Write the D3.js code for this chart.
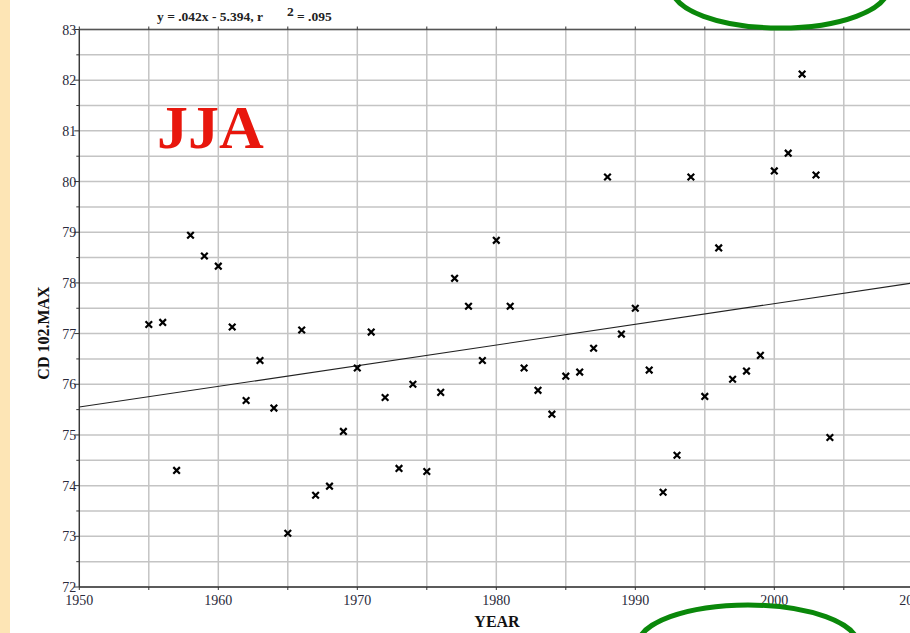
<!DOCTYPE html>
<html><head><meta charset="utf-8">
<script src="https://cdn.jsdelivr.net/npm/d3@7"></script>
<style>body{margin:0;background:#fff;}svg{display:block;}</style>
</head><body>
<script>
const years = [1955,1956,1957,1958,1959,1960,1961,1962,1963,1964,1965,1966,1967,1968,1969,1970,1971,1972,1973,1974,1975,1976,1977,1978,1979,1980,1981,1982,1983,1984,1985,1986,1987,1988,1989,1990,1991,1992,1993,1994,1995,1996,1997,1998,1999,2000,2001,2002,2003,2004];
const values = [77.18,77.22,74.30,78.94,78.53,78.33,77.13,75.68,76.47,75.53,73.06,77.07,73.81,73.99,75.07,76.32,77.03,75.74,74.34,76.00,74.28,75.84,78.09,77.54,76.47,78.84,77.54,76.32,75.88,75.41,76.16,76.24,76.71,80.09,76.99,77.50,76.28,73.87,74.60,80.09,75.76,78.69,76.10,76.26,76.57,80.21,80.56,82.12,80.13,74.95];
const xTicks = [1950,1960,1970,1980,1990,2000,2010];
const yTicks = [72,73,74,75,76,77,78,79,80,81,82,83];
const trendEnds = [[1950,75.55],[2010,78.0]];
const equationText = "y = .042x - 5.394, r";
const r2Text = "= .095";
const seasonLabel = "JJA";
const xTitle = "YEAR", yTitle = "CD 102.MAX";

const W=910,H=633;
const svg=d3.select("body").append("svg").attr("width",W).attr("height",H);
svg.append("rect").attr("width",W).attr("height",H).attr("fill","#fff");
svg.append("rect").attr("x",0).attr("y",0).attr("width",10).attr("height",H).attr("fill","#fde5b5");

const x=d3.scaleLinear().domain([1950,2010]).range([79.3,913.3]);
const y=d3.scaleLinear().domain([72,83]).range([587,29.5]);
const serif="'Liberation Serif','DejaVu Serif',serif";

// grid
const g=svg.append("g");
const vgrid=d3.range(1950,2011,5), hgrid=d3.range(72,83.01,0.5);
g.selectAll(".vg").data(vgrid).join("line")
 .attr("x1",d=>x(d)).attr("x2",d=>x(d)).attr("y1",y(83)).attr("y2",y(72))
 .attr("stroke","#c4c4c4").attr("stroke-width",1.5);
g.selectAll(".hg").data(hgrid).join("line")
 .attr("x1",x(1950)).attr("x2",W).attr("y1",d=>y(d)).attr("y2",d=>y(d))
 .attr("stroke","#c4c4c4").attr("stroke-width",1.5);

// axes
const ax=svg.append("g");
ax.append("line").attr("x1",x(1950)).attr("x2",W).attr("y1",y(72)).attr("y2",y(72)).attr("stroke","#333").attr("stroke-width",1.3);
ax.append("line").attr("x1",x(1950)).attr("x2",W).attr("y1",y(83)).attr("y2",y(83)).attr("stroke","#555").attr("stroke-width",1.3);
ax.append("line").attr("x1",x(1950)).attr("x2",x(1950)).attr("y1",y(83)).attr("y2",y(72)).attr("stroke","#333").attr("stroke-width",1.3);
ax.selectAll(".yt").data(hgrid).join("line")
 .attr("x1",d=>x(1950)-(Number.isInteger(d)?5:3)).attr("x2",x(1950)).attr("y1",d=>y(d)).attr("y2",d=>y(d)).attr("stroke","#333");
ax.selectAll(".xtb").data(vgrid).join("line")
 .attr("x1",d=>x(d)).attr("x2",d=>x(d)).attr("y1",y(72)).attr("y2",y(72)+3).attr("stroke","#333");
ax.selectAll(".xtt").data(vgrid).join("line")
 .attr("x1",d=>x(d)).attr("x2",d=>x(d)).attr("y1",y(83)-3).attr("y2",y(83)).attr("stroke","#333");

svg.selectAll(".yl").data(yTicks).join("text")
 .attr("x",x(1950)-3).attr("y",d=>y(d)+5).attr("text-anchor","end")
 .attr("font-family",serif).attr("font-size",14).attr("fill","#2a2a3a").text(d=>d);
svg.selectAll(".xl").data(xTicks).join("text")
 .attr("x",d=>x(d)).attr("y",y(72)+18).attr("text-anchor","middle")
 .attr("font-family",serif).attr("font-size",14).attr("fill","#2a2a3a").text(d=>d);

svg.append("text").attr("x",497).attr("y",627).attr("text-anchor","middle")
 .attr("font-family",serif).attr("font-weight","bold").attr("font-size",16).attr("fill","#111").text(xTitle);
svg.append("text").attr("transform","translate(49,333) rotate(-90)").attr("text-anchor","middle")
 .attr("font-family",serif).attr("font-weight","bold").attr("font-size",16).attr("fill","#111").text(yTitle);

// equation
svg.append("text").attr("x",157).attr("y",21).attr("font-family",serif).attr("font-weight","bold")
 .attr("font-size",13.5).attr("fill","#222").text(equationText);
svg.append("text").attr("x",287).attr("y",16).attr("font-family",serif).attr("font-weight","bold")
 .attr("font-size",13.5).attr("fill","#222").text("2");
svg.append("text").attr("x",297).attr("y",21).attr("font-family",serif).attr("font-weight","bold")
 .attr("font-size",13.5).attr("fill","#222").text(r2Text);

// season label
svg.append("text").attr("x",157).attr("y",148).attr("font-family",serif).attr("font-weight","bold")
 .attr("font-size",62).attr("fill","#e8170d").text(seasonLabel);

// trend line
svg.append("line").attr("x1",x(trendEnds[0][0])).attr("y1",y(trendEnds[0][1]))
 .attr("x2",x(trendEnds[1][0])).attr("y2",y(trendEnds[1][1])).attr("stroke","#222").attr("stroke-width",1.1);

// points
const sym=d3.symbol().type(d3.symbolX).size(30);
svg.selectAll(".pt").data(years.map((yr,i)=>[yr,values[i]])).join("path")
 .attr("transform",d=>`translate(${x(d[0])},${y(d[1])})`).attr("d",sym)
 .attr("fill","none").attr("stroke","#000").attr("stroke-width",2.2);

// green ellipses
svg.append("ellipse").attr("cx",780).attr("cy",-12).attr("rx",108).attr("ry",40)
 .attr("fill","none").attr("stroke","#0a880a").attr("stroke-width",5);
svg.append("ellipse").attr("cx",748).attr("cy",645).attr("rx",110).attr("ry",40)
 .attr("fill","none").attr("stroke","#0a880a").attr("stroke-width",5);
</script>
</body></html>
